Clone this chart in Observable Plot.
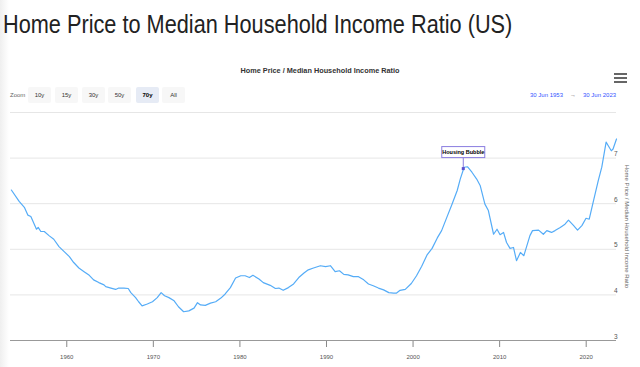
<!DOCTYPE html>
<html><head><meta charset="utf-8">
<script src="https://cdn.jsdelivr.net/npm/d3@7"></script>
<script src="https://cdn.jsdelivr.net/npm/@observablehq/plot@0.6"></script>
<style>
body{margin:0;width:640px;height:367px;overflow:hidden;background:#fff;font-family:"Liberation Sans",Arial,Helvetica,sans-serif;position:relative}
.shade{position:absolute;left:0;top:0;width:9px;height:367px;background:linear-gradient(to right,#efefef,#fff)}
#title{position:absolute;left:3px;top:8px;font-size:25px;color:#222;white-space:nowrap;line-height:32px;transform-origin:0 50%}
#ctitle{position:absolute;left:0;width:640px;top:66px;text-align:center;font-size:7.3px;font-weight:bold;color:#333}
.btn{position:absolute;top:87px;height:16px;line-height:16px;text-align:center;font-size:6px;color:#333;background:#f7f7f7;border-radius:2px}
.btn.sel{background:#e6ebf5;font-weight:bold;color:#000}
#zoomlbl{position:absolute;left:10px;top:87px;line-height:16px;font-size:6px;color:#666}
#range{position:absolute;left:530px;top:87px;line-height:16px;font-size:6px;color:#3355ff;white-space:nowrap}
#range span{color:#666;margin:0 7px}
.bar{position:absolute;left:614px;width:13px;height:2px;background:#666}
#chart{position:absolute;left:0;top:100px}
</style></head>
<body>
<div class="shade"></div>
<div id="title">Home Price to Median Household Income Ratio (US)</div>
<div id="ctitle">Home Price / Median Household Income Ratio</div>
<div id="zoomlbl">Zoom</div>
<div id="btns"></div>
<div id="range">30 Jun 1953<span>→</span>30 Jun 2023</div>
<div class="bar" style="top:73px"></div><div class="bar" style="top:77px"></div><div class="bar" style="top:81px"></div>
<div id="chart"></div>
<script>
const years = [1953.6,1954.5,1955.1,1955.5,1955.85,1956.5,1956.7,1957.0,1957.4,1957.95,1958.5,1959.1,1959.7,1960.3,1960.8,1961.4,1962.0,1962.6,1963.1,1963.7,1964.3,1964.5,1965.1,1965.65,1966.0,1966.6,1967.1,1967.4,1967.95,1968.3,1968.7,1969.3,1969.9,1970.45,1970.9,1971.3,1971.8,1972.4,1972.9,1973.5,1974.1,1974.7,1975.1,1975.45,1976.0,1976.6,1977.2,1977.8,1978.3,1978.9,1979.5,1980.1,1980.6,1981.1,1981.5,1982.2,1982.7,1983.5,1984.1,1984.5,1985.0,1985.6,1986.2,1986.8,1987.4,1987.9,1988.5,1989.3,1989.9,1990.45,1991.0,1991.5,1992.0,1992.5,1993.1,1993.7,1994.3,1994.85,1995.4,1996.0,1996.6,1997.2,1997.75,1998.1,1998.5,1999.1,1999.8,2000.4,2001.0,2001.6,2002.2,2002.8,2003.3,2003.9,2004.5,2005.1,2005.45,2005.9,2006.3,2006.8,2007.35,2007.75,2008.3,2008.7,2009.3,2009.7,2010.05,2010.45,2010.8,2011.2,2011.6,2011.95,2012.4,2012.8,2013.5,2013.8,2014.5,2015.05,2015.45,2016.0,2016.4,2017.0,2017.55,2017.95,2018.5,2019.0,2019.5,2019.98,2020.35,2020.8,2021.4,2021.8,2022.3,2022.55,2022.9,2023.1,2023.5];
const ratios = [6.30,6.05,5.92,5.75,5.72,5.44,5.48,5.39,5.39,5.30,5.22,5.06,4.95,4.84,4.71,4.59,4.51,4.43,4.33,4.27,4.22,4.18,4.15,4.12,4.15,4.15,4.14,4.05,3.94,3.85,3.76,3.80,3.85,3.94,4.05,3.98,3.94,3.87,3.74,3.63,3.65,3.71,3.83,3.78,3.77,3.82,3.85,3.93,4.02,4.16,4.37,4.42,4.42,4.38,4.43,4.35,4.27,4.21,4.14,4.15,4.10,4.16,4.24,4.38,4.48,4.55,4.59,4.64,4.62,4.64,4.51,4.53,4.45,4.44,4.40,4.40,4.33,4.24,4.20,4.15,4.11,4.05,4.04,4.04,4.10,4.12,4.25,4.42,4.63,4.87,5.02,5.25,5.41,5.70,5.99,6.29,6.54,6.80,6.81,6.69,6.54,6.40,5.99,5.85,5.33,5.44,5.32,5.37,5.15,5.02,5.04,4.75,4.93,4.86,5.30,5.41,5.42,5.33,5.41,5.37,5.41,5.48,5.55,5.64,5.53,5.42,5.52,5.68,5.66,6.03,6.51,6.80,7.35,7.27,7.16,7.20,7.42];
const xTicks = [1960,1970,1980,1990,2000,2010,2020];
const yGrid = [4,5,6,7,8];
const yTickLabels = [3,4,5,6,7];
const zoomButtons = ["10y","15y","30y","50y","70y","All"];
const selectedButton = "70y";
const annotLabel = ["Housing Bubble"];
const annotYear = [2005.8];
const annotValue = [6.77];
const yTitle = "Home Price / Median Household Income Ratio";

const t = document.getElementById("title");
t.style.transform = "scaleX(" + (509 / t.offsetWidth) + ")";

const btnLeft = [28,55,82,108,136,162];
const bw = 23;
zoomButtons.forEach((b,i)=>{
  const d = document.createElement("div");
  d.className = "btn" + (b===selectedButton?" sel":"");
  d.style.left = btnLeft[i]+"px"; d.style.width = bw+"px";
  d.textContent = b;
  document.getElementById("btns").appendChild(d);
});

const data = years.map((y,i)=>({year:y, value:ratios[i]}));
const annot = annotLabel.map((t,i)=>({label:t, year:annotYear[i], value:annotValue[i]}));
const DY = -16.5;

const chart = Plot.plot({
  width: 640, height: 267,
  marginTop: 12, marginLeft: 10, marginRight: 24, marginBottom: 27,
  style: {fontFamily: '"Liberation Sans", Arial, sans-serif', fontSize: "6px", color: "#555", background: "transparent"},
  x: {domain: [1953.5, 2023.5]},
  y: {domain: [3, 8]},
  marks: [
    Plot.ruleY(yGrid, {stroke: "#e6e6e6", strokeWidth: 1}),
    Plot.axisX({ticks: xTicks, tickFormat: d3.format("d"), tickSize: 7, tickPadding: 7, stroke: "#888", fill: "#555", fontSize: 6, label: null}),
    Plot.ruleY([3], {stroke: "#999", strokeWidth: 1}),
    Plot.axisY({anchor: "right", ticks: yTickLabels, tickFormat: d3.format("d"), tickSize: 0, tickPadding: 0, textAnchor: "end", dx: 1, dy: -4, fill: "#555", fontSize: 6.5, label: null}),
    Plot.text([yTitle], {frameAnchor: "right", textAnchor: "middle", rotate: 90, dx: 10, fontSize: 6, fill: "#666"}),
    Plot.line(data, {x: "year", y: "value", stroke: "#55acf7", strokeWidth: 1.2}),
    Plot.text(annot, {x: "year", y: "value", text: "label", dy: DY, fontSize: 5.5, fontWeight: "bold", fill: "#000",
      render(index, scales, values, dimensions, context, next) {
        const g = next(index, scales, values, dimensions, context);
        for (const i of index) {
          const px = values.x[i], py = values.y[i] - DY;
          const grp = d3.create("svg:g");
          grp.append("line").attr("x1", px).attr("x2", px).attr("y1", py - 11).attr("y2", py)
            .attr("stroke", "#8a7de0").attr("stroke-width", 1);
          grp.append("rect").attr("x", px - 21.5).attr("y", py - 22).attr("width", 43).attr("height", 11)
            .attr("fill", "#fff").attr("stroke", "#8a7de0").attr("stroke-width", 1);
          grp.append("rect").attr("x", px - 1.5).attr("y", py - 1.5).attr("width", 3).attr("height", 3)
            .attr("fill", "#5a4fcf");
          g.insertBefore(grp.node(), g.firstChild);
        }
        return g;
      }})
  ]
});
document.getElementById("chart").appendChild(chart);
</script>
</body></html>
